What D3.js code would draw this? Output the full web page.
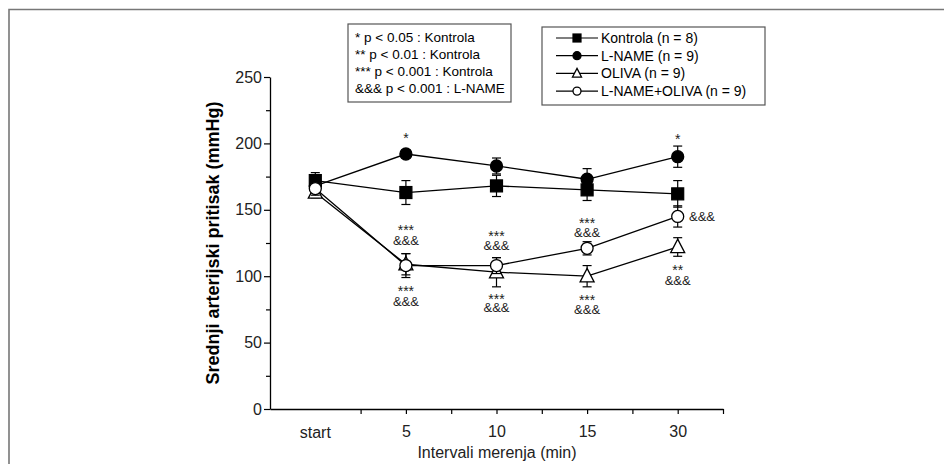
<!DOCTYPE html>
<html>
<head>
<meta charset="utf-8">
<script src="https://cdn.jsdelivr.net/npm/d3@7"></script>
<style>
  body { margin: 0; background: #fff; }
  svg { font-family: "Liberation Sans", Arial, sans-serif; }
</style>
</head>
<body>
<svg id="chart" width="944" height="464"></svg>
<script>
// categories (x positions on a 0..10 axis)
const categories = ["start", "5", "10", "15", "30"];
const catPos = [1, 3, 5, 7, 9];

const kontrola = [172, 163, 168, 165, 162];
const kontrolaErr = [6, 9, 8, 8, 10];
const lname = [168, 192, 183, 173, 190];
const lnameErr = [5, 3, 6, 8, 8];
const oliva = [163, 109, 103, 100, 122];
const olivaErr = [4, 8, 11, 8, 7];
const lnameOliva = [166, 108, 108, 121, 145];
const lnameOlivaErr = [5, 9, 6, 5, 8];

const yTicks = [0, 50, 100, 150, 200, 250];

// significance marks: category index, y value, text
const marks = [
  [1, 206, "*"], [4, 205.5, "*"],
  [1, 137, "***"], [1, 127, "&&&"], [1, 91, "***"], [1, 81, "&&&"],
  [2, 132.5, "***"], [2, 123.5, "&&&"], [2, 85, "***"], [2, 77, "&&&"],
  [3, 142, "***"], [3, 133, "&&&"], [3, 84, "***"], [3, 75, "&&&"],
  [4, 107, "**"], [4, 97, "&&&"]
];

const sigLegend = ["* p < 0.05 : Kontrola", "** p < 0.01 : Kontrola",
  "*** p < 0.001 : Kontrola", "&&& p < 0.001 : L-NAME"];

const series = [
  { name: "Kontrola (n = 8)", values: kontrola, err: kontrolaErr, shape: "square", fill: "#000" },
  { name: "L-NAME (n = 9)", values: lname, err: lnameErr, shape: "circle", fill: "#000" },
  { name: "OLIVA (n = 9)", values: oliva, err: olivaErr, shape: "triangle", fill: "#fff" },
  { name: "L-NAME+OLIVA (n = 9)", values: lnameOliva, err: lnameOlivaErr, shape: "circle", fill: "#fff" }
];

const svg = d3.select("#chart");
const FONT = "Liberation Sans, Arial, sans-serif";

// outer frame
svg.append("path")
  .attr("d", "M9,470 V9.5 H950")
  .attr("fill", "none").attr("stroke", "#777").attr("stroke-width", 1.6);

const x = d3.scaleLinear().domain([0, 10]).range([270, 723]);
const y = d3.scaleLinear().domain([0, 250]).range([409, 77]);

// y axis
const yAxis = svg.append("g").attr("transform", "translate(270,0)")
  .call(d3.axisLeft(y).tickValues(d3.range(0, 251, 25)).tickSize(5).tickSizeOuter(0)
    .tickFormat(d => yTicks.includes(d) ? d : ""));
yAxis.attr("font-family", FONT);
yAxis.selectAll(".tick line").attr("x2", d => yTicks.includes(d) ? -6 : -4);
yAxis.selectAll("text").attr("font-size", 16).attr("x", -8).attr("fill", "#222");

// x axis
const xAxis = svg.append("g").attr("transform", "translate(0,409)")
  .call(d3.axisBottom(x).tickValues([2, 3, 4, 5, 6, 7, 8, 9, 10]).tickSize(5).tickSizeOuter(0)
    .tickFormat(d => { const i = catPos.indexOf(d); return i >= 0 ? categories[i] : ""; }));
xAxis.attr("font-family", FONT);
xAxis.selectAll("text").attr("font-size", 16).attr("dy", "1.25em").attr("fill", "#222");
svg.append("text").attr("x", x(1)).attr("y", 409 + 29).attr("text-anchor", "middle")
  .attr("font-size", 16).attr("fill", "#222").text(categories[0]);
svg.selectAll(".domain").attr("stroke-width", 1.3);
svg.selectAll(".tick line").attr("stroke-width", 1.2);

// axis titles
svg.append("text").attr("transform", "translate(219,243) rotate(-90)")
  .attr("text-anchor", "middle").attr("font-size", 18).attr("font-weight", "bold")
  .text("Srednji arterijski pritisak (mmHg)");
svg.append("text").attr("x", 497).attr("y", 458).attr("text-anchor", "middle")
  .attr("font-size", 16).attr("fill", "#222").text("Intervali merenja (min)");

function marker(g, shape, fill, cx, cy, s) {
  if (shape === "square") {
    g.append("rect").attr("x", cx - s / 2).attr("y", cy - s / 2).attr("width", s).attr("height", s)
      .attr("fill", fill).attr("stroke", "#000").attr("stroke-width", 1.2);
  } else if (shape === "circle") {
    g.append("circle").attr("cx", cx).attr("cy", cy).attr("r", s / 2)
      .attr("fill", fill).attr("stroke", "#000").attr("stroke-width", 1.3);
  } else {
    const h = s * 0.9;
    g.append("path").attr("d", `M${cx},${cy - h * 0.62} L${cx + s / 2},${cy + h * 0.45} L${cx - s / 2},${cy + h * 0.45} Z`)
      .attr("fill", fill).attr("stroke", "#000").attr("stroke-width", 1.3);
  }
}

const line = d3.line().x((d, i) => x(catPos[i])).y(d => y(d));
const plot = svg.append("g");

series.forEach(s => {
  plot.append("path").datum(s.values).attr("d", line)
    .attr("fill", "none").attr("stroke", "#000").attr("stroke-width", 1.3);
});

series.forEach(s => {
  const g = plot.append("g");
  s.values.forEach((v, i) => {
    const cx = x(catPos[i]);
    const top = y(v + s.err[i]), bot = y(v - s.err[i]);
    g.append("line").attr("x1", cx).attr("x2", cx).attr("y1", top).attr("y2", bot)
      .attr("stroke", "#000").attr("stroke-width", 1.2);
    [top, bot].forEach(yy => g.append("line").attr("x1", cx - 4.5).attr("x2", cx + 4.5)
      .attr("y1", yy).attr("y2", yy).attr("stroke", "#000").attr("stroke-width", 1.2));
  });
  s.values.forEach((v, i) => marker(g, s.shape, s.fill, x(catPos[i]), y(v), s.shape === "triangle" ? 14 : 12));
});

// significance marks
marks.forEach(([i, v, t]) => {
  const star = t[0] === "*";
  svg.append("text").attr("x", x(catPos[i])).attr("y", y(v) + (star ? 8 : 5))
    .attr("text-anchor", "middle").attr("font-size", star ? 14 : 13).attr("fill", "#222").text(t);
});
svg.append("text").attr("x", 689).attr("y", y(lnameOliva[4]) + 5)
  .attr("font-size", 13).attr("fill", "#222").text("&&&");

// legend box 1
svg.append("rect").attr("x", 348).attr("y", 24).attr("width", 163).attr("height", 78)
  .attr("fill", "#fff").attr("stroke", "#555").attr("stroke-width", 1.2);
svg.selectAll(".sig").data(sigLegend).enter().append("text")
  .attr("x", 355).attr("y", (d, i) => 42 + i * 17).attr("font-size", 13.5).text(d => d);

// legend box 2
svg.append("rect").attr("x", 542).attr("y", 27).attr("width", 223).attr("height", 78)
  .attr("fill", "#fff").attr("stroke", "#555").attr("stroke-width", 1.2);
series.forEach((s, i) => {
  const ly = 38 + i * 17.7;
  const g = svg.append("g");
  g.append("line").attr("x1", 556).attr("x2", 598).attr("y1", ly).attr("y2", ly)
    .attr("stroke", "#000").attr("stroke-width", 1.2);
  marker(g, s.shape, s.fill, 577, ly, s.shape === "triangle" ? 9 : 8);
  g.append("text").attr("x", 601).attr("y", ly + 5).attr("font-size", 14).text(s.name);
});
</script>
</body>
</html>
